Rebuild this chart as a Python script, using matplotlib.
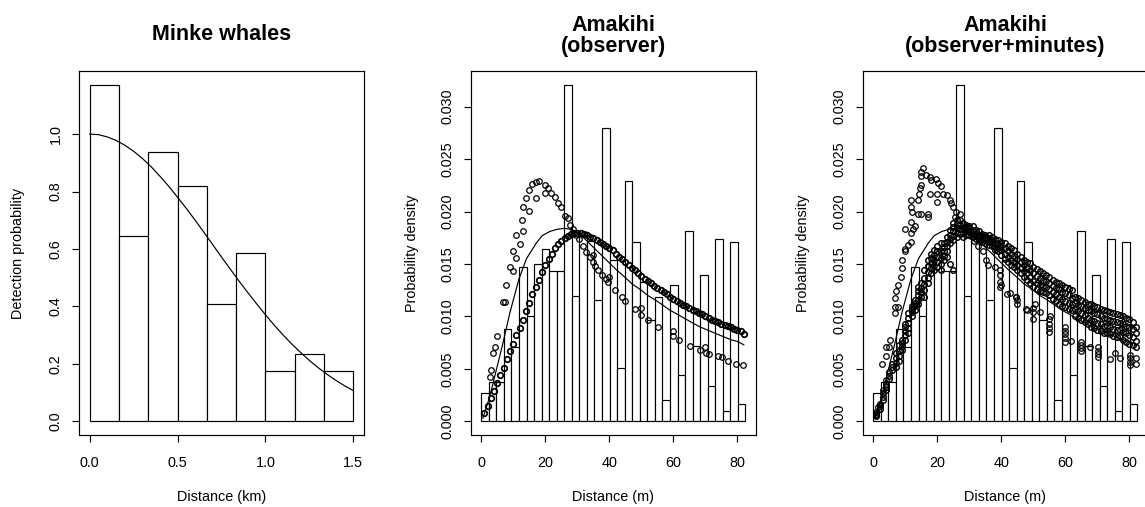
import matplotlib
matplotlib.use("Agg")
import matplotlib.pyplot as plt
import numpy as np

plt.rcParams['font.family'] = ['Liberation Sans', 'DejaVu Sans']

W, H = 1145, 507

# ---------------- data ----------------
# Panel 1: Minke whales
minke_range = (0.0, 1.5)
minke_heights = [1.172, 0.646, 0.939, 0.820, 0.410, 0.586, 0.175, 0.233, 0.175]
minke_curve_x = [0.0, 0.05, 0.1, 0.15, 0.2, 0.25, 0.3, 0.35, 0.4, 0.45, 0.5, 0.55, 0.6,
                 0.65, 0.7, 0.75, 0.8, 0.85, 0.9, 0.95, 1.0, 1.05, 1.1, 1.15, 1.2, 1.25,
                 1.3, 1.35, 1.4, 1.45, 1.5]
minke_curve_g = [1.000, 0.998, 0.990, 0.978, 0.961, 0.940, 0.915, 0.886, 0.853, 0.818,
                 0.780, 0.741, 0.700, 0.658, 0.615, 0.572, 0.530, 0.488, 0.448, 0.409,
                 0.371, 0.335, 0.301, 0.269, 0.240, 0.212, 0.187, 0.164, 0.143, 0.124, 0.107]

# Panels 2 & 3: Amakihi
amakihi_range = (0.0, 82.5)
amakihi_hist = [0.00273, 0.00373, 0.00373, 0.00883, 0.00712, 0.01468, 0.0100, 0.0150,
                0.0164, 0.0143, 0.0143, 0.0321, 0.01195, 0.0178, 0.0172, 0.0116, 0.0280,
                0.01536, 0.0051, 0.0229, 0.0171, 0.0133, 0.00966, 0.0119, 0.0020, 0.0130,
                0.0044, 0.0181, 0.0072, 0.0140, 0.0034, 0.0174, 0.0010, 0.0171, 0.0017]

avg_pdf_x = [0.5, 2.6, 4.7, 6.8, 8.9, 11.7, 14.1, 17.2, 19.0, 21.4, 23.5, 25.9, 28.2,
             30.6, 33.0, 35.3, 37.7, 40.0, 42.4, 45.0, 47.1, 50.0, 52.0, 54.2, 56.6,
             58.9, 61.3, 63.6, 65.9, 68.3, 70.7, 73.0, 75.4, 77.8, 80.1, 82.0]
avg_pdf_y = [0.0003, 0.0023, 0.0049, 0.0075, 0.0103, 0.0135, 0.0155, 0.0170, 0.0177,
             0.0181, 0.0183, 0.0184, 0.0183, 0.0179, 0.0172, 0.0165, 0.0158, 0.0151,
             0.0144, 0.0137, 0.0131, 0.0125, 0.0120, 0.0116, 0.0111, 0.0106, 0.0102,
             0.0098, 0.0094, 0.0090, 0.0087, 0.0084, 0.0081, 0.0078, 0.0076, 0.0073]

# observer model: observer level A (dense) and level B (sparse)
obsA_dist = list(range(1, 83))
obsA_dens = [0.0008, 0.0015, 0.0022, 0.0029, 0.0037, 0.0044, 0.0051, 0.0059, 0.0067, 0.0074,
             0.0082, 0.0089, 0.0097, 0.0105, 0.0113, 0.0121, 0.0128, 0.0135, 0.0142, 0.0149,
             0.0155, 0.0160, 0.0165, 0.0169, 0.0172, 0.0175, 0.0177, 0.0179, 0.0180, 0.0180,
             0.0180, 0.0179, 0.0178, 0.0176, 0.0175, 0.0173, 0.0171, 0.0169, 0.0167, 0.0165,
             0.0163, 0.0160, 0.0157, 0.0155, 0.0152, 0.0149, 0.0146, 0.0144, 0.0141, 0.0139,
             0.0136, 0.0134, 0.0132, 0.0129, 0.0127, 0.0125, 0.0123, 0.0121, 0.0119, 0.0117,
             0.0115, 0.0113, 0.0111, 0.0110, 0.0108, 0.0106, 0.0105, 0.0103, 0.0102, 0.0100,
             0.0099, 0.0097, 0.0096, 0.0095, 0.0093, 0.0092, 0.0091, 0.0090, 0.0088, 0.0087,
             0.0086, 0.0083]
obsB_dist = [2.6, 2.9, 3.8, 4.2, 4.9, 6.8, 7.3, 7.8, 9.1, 9.9, 9.9, 10.9, 10.9, 12.0, 12.8,
             13.0, 13.0, 13.9, 14.9, 14.9, 15.8, 17.0, 17.0, 18.0, 19.8, 19.8, 20.8, 21.9,
             22.9, 24.0, 24.8, 26.0, 27.1, 27.8, 28.6, 29.5, 30.5, 31.8, 32.8, 33.9, 34.9,
             34.9, 35.6, 36.5, 37.8, 39.0, 39.6, 39.9, 41.7, 43.8, 44.8, 47.9, 50.0, 50.0,
             52.1, 55.2, 59.9, 59.9, 61.8, 65.1, 68.2, 69.8, 70.3, 71.1, 74.0, 75.3, 77.1,
             79.7, 81.8]
obsB_dens = [0.0042, 0.0049, 0.0065, 0.0071, 0.0081, 0.0114, 0.0114, 0.0130, 0.0147, 0.0143,
             0.0162, 0.0156, 0.0178, 0.0169, 0.0192, 0.0181, 0.0204, 0.0213, 0.0201, 0.0221,
             0.0226, 0.0213, 0.0228, 0.0229, 0.0225, 0.0218, 0.0222, 0.0218, 0.0214, 0.0208,
             0.0204, 0.0196, 0.0194, 0.0187, 0.0183, 0.0178, 0.0174, 0.0167, 0.0161, 0.0157,
             0.0159, 0.0152, 0.0148, 0.0144, 0.0140, 0.0136, 0.0133, 0.0138, 0.0125, 0.0119,
             0.0115, 0.0107, 0.0108, 0.0101, 0.0097, 0.0090, 0.0086, 0.0081, 0.0078, 0.0072,
             0.0068, 0.0071, 0.0065, 0.0064, 0.0062, 0.0061, 0.0058, 0.0055, 0.0054]

# observer+minutes model: level A band (columns per distance), level B points
obsminA_dist = list(range(1, 83))
obsminA_dens = [
    [0.0005, 0.0007, 0.0009], [0.0012, 0.0015, 0.0017], [0.0020, 0.0023, 0.0027],
    [0.0030, 0.0033, 0.0036], [0.0040, 0.0043, 0.0047], [0.0049, 0.0052, 0.0055],
    [0.0052, 0.0056, 0.0060, 0.0065], [0.0058, 0.0062, 0.0067, 0.0073],
    [0.0068, 0.0072, 0.0075, 0.0078], [0.0078, 0.0082, 0.0086, 0.0090, 0.0093],
    [0.0084, 0.0089, 0.0094, 0.0099, 0.0103], [0.0100, 0.0104, 0.0107, 0.0110],
    [0.0106, 0.0110, 0.0113, 0.0116], [0.0112, 0.0116, 0.0120, 0.0124, 0.0128],
    [0.0119, 0.0123, 0.0127, 0.0132], [0.0119, 0.0125, 0.0131, 0.0137, 0.0144],
    [0.0132, 0.0137, 0.0142, 0.0148, 0.0154], [0.0141, 0.0146, 0.0151, 0.0156, 0.0160],
    [0.0144, 0.0149, 0.0154, 0.0159, 0.0163], [0.0147, 0.0152, 0.0157, 0.0162, 0.0167],
    [0.0144, 0.0150, 0.0156, 0.0162, 0.0170], [0.0154, 0.0158, 0.0162, 0.0166, 0.0170],
    [0.0157, 0.0162, 0.0167, 0.0171, 0.0176], [0.0150, 0.0170, 0.0174, 0.0178, 0.0182],
    [0.0144, 0.0173, 0.0177, 0.0181, 0.0185, 0.0189], [0.0176, 0.0180, 0.0184, 0.0188, 0.0192],
    [0.0179, 0.0183, 0.0187, 0.0192], [0.0176, 0.0180, 0.0184, 0.0189],
    [0.0178, 0.0181, 0.0184, 0.0187], [0.0178, 0.0181, 0.0184, 0.0186],
    [0.0176, 0.0179, 0.0182, 0.0186], [0.0174, 0.0177, 0.0180, 0.0182],
    [0.0173, 0.0176, 0.0178, 0.0181], [0.0171, 0.0174, 0.0177, 0.0179],
    [0.0170, 0.0173, 0.0176, 0.0178], [0.0168, 0.0171, 0.0175, 0.0178],
    [0.0167, 0.0170, 0.0173, 0.0176], [0.0163, 0.0166, 0.0170, 0.0174],
    [0.0162, 0.0165, 0.0169, 0.0173], [0.0159, 0.0163, 0.0167, 0.0171],
    [0.0155, 0.0160, 0.0165, 0.0170], [0.0152, 0.0157, 0.0162, 0.0167],
    [0.0149, 0.0154, 0.0160, 0.0165], [0.0147, 0.0152, 0.0158, 0.0163],
    [0.0144, 0.0149, 0.0155, 0.0160], [0.0141, 0.0146, 0.0152, 0.0157],
    [0.0138, 0.0143, 0.0149, 0.0154], [0.0135, 0.0141, 0.0146, 0.0152],
    [0.0132, 0.0138, 0.0144, 0.0151], [0.0128, 0.0134, 0.0141, 0.0147],
    [0.0126, 0.0132, 0.0139, 0.0145], [0.0124, 0.0130, 0.0137, 0.0143],
    [0.0123, 0.0129, 0.0135, 0.0141], [0.0122, 0.0128, 0.0134, 0.0140],
    [0.0120, 0.0126, 0.0132, 0.0138], [0.0117, 0.0123, 0.0129, 0.0135],
    [0.0115, 0.0121, 0.0127, 0.0133], [0.0112, 0.0119, 0.0126, 0.0132],
    [0.0110, 0.0117, 0.0123, 0.0130], [0.0109, 0.0115, 0.0122, 0.0128],
    [0.0107, 0.0113, 0.0120, 0.0126], [0.0106, 0.0112, 0.0118, 0.0125],
    [0.0100, 0.0107, 0.0113, 0.0119], [0.0099, 0.0105, 0.0111, 0.0118],
    [0.0097, 0.0103, 0.0110, 0.0116], [0.0095, 0.0101, 0.0108, 0.0114],
    [0.0093, 0.0099, 0.0106, 0.0112], [0.0090, 0.0097, 0.0105, 0.0112],
    [0.0089, 0.0096, 0.0103, 0.0110], [0.0087, 0.0094, 0.0102, 0.0109],
    [0.0086, 0.0093, 0.0100, 0.0107], [0.0084, 0.0091, 0.0099, 0.0106],
    [0.0084, 0.0091, 0.0098, 0.0105], [0.0083, 0.0090, 0.0097, 0.0104],
    [0.0081, 0.0088, 0.0096, 0.0103], [0.0080, 0.0087, 0.0095, 0.0102],
    [0.0080, 0.0087, 0.0094, 0.0101], [0.0078, 0.0085, 0.0093, 0.0100],
    [0.0076, 0.0084, 0.0091, 0.0099], [0.0074, 0.0082, 0.0090, 0.0098],
    [0.0073, 0.0080, 0.0088, 0.0095], [0.0071, 0.0077, 0.0084, 0.0090]]
obsminB_dist = [0.7, 1.4, 2.8, 3.0, 3.9, 3.9, 4.0, 4.9, 5.1, 6.9, 6.9, 6.9, 7.2, 7.7, 7.7,
                8.7, 9.0, 9.0, 9.8, 10.0, 11.0, 11.9, 10.0, 11.9, 12.4, 13.0, 11.9, 12.2,
                11.9, 11.9, 14.0, 15.0, 17.1, 17.1, 14.0, 14.4, 14.5, 15.0, 15.0, 15.5, 15.0,
                16.6, 17.6, 18.1, 19.7, 20.2, 17.8, 19.9, 19.9, 21.3, 21.8, 23.1, 23.9, 24.4,
                25.0, 25.9, 25.4, 27.0, 28.5, 29.5, 30.5, 31.5,
                32.7, 34.3, 35.3, 35.8, 37.9, 39.5, 39.5, 39.5, 39.5, 40.0, 41.8, 42.7, 44.5,
                44.7, 45.0, 45.0, 47.8, 47.9, 49.9, 49.9, 49.9, 50.4, 52.0, 55.0, 55.0, 55.0,
                55.0, 55.1, 59.9, 59.9, 59.9, 59.9, 59.9, 61.9, 65.0, 65.0, 65.0, 65.0, 67.7,
                70.3, 70.3, 70.3, 70.3, 73.9, 75.5, 77.0, 80.2, 80.2, 80.2, 80.2, 82.0, 82.0]
obsminB_dens = [0.0006, 0.0014, 0.0055, 0.0030, 0.0062, 0.0071, 0.0039, 0.0071, 0.0078,
                0.0103, 0.0109, 0.0118, 0.0124, 0.0109, 0.0130, 0.0138, 0.0154, 0.0146,
                0.0162, 0.0164, 0.0168, 0.0171, 0.0183, 0.0180, 0.0183, 0.0186, 0.0190,
                0.0200, 0.0204, 0.0211, 0.0198, 0.0198, 0.0198, 0.0195, 0.0211, 0.0217,
                0.0222, 0.0225, 0.0234, 0.0242, 0.0238, 0.0235, 0.0233, 0.0230, 0.0231,
                0.0227, 0.0217, 0.0217, 0.0209, 0.0224, 0.0217, 0.0216, 0.0211, 0.0208,
                0.0204, 0.0200, 0.0195, 0.0198, 0.0185, 0.0181, 0.0177, 0.0172,
                0.0167, 0.0162, 0.0154, 0.0149, 0.0147, 0.0144, 0.0133, 0.0140, 0.0128,
                0.0130, 0.0121, 0.0122, 0.0119, 0.0119, 0.0112, 0.0116, 0.0107, 0.0106,
                0.0098, 0.0104, 0.0108, 0.0112, 0.0104, 0.0085, 0.0089, 0.0093, 0.0098,
                0.0100, 0.0076, 0.0079, 0.0083, 0.0086, 0.0090, 0.0077, 0.0067, 0.0070,
                0.0073, 0.0076, 0.0071, 0.0061, 0.0064, 0.0067, 0.0071, 0.0059, 0.0065,
                0.0060, 0.0054, 0.0057, 0.0060, 0.0063, 0.0060, 0.0055]

# ---------------- layout helpers ----------------
FS = 10.4
LW = 0.85
MS = 4.0
MEW = 0.9


def add_axes_px(L, R, T, B):
    return fig.add_axes([L / W, 1 - B / H, (R - L) / W, (B - T) / H])


def r_lim(lo, hi):
    e = 0.04 * (hi - lo)
    return lo - e, hi + e


def style_axes(ax, xticks, xlabels, yticks, ylabels):
    for s in ax.spines.values():
        s.set_linewidth(LW)
        s.set_color('black')
    ax.set_xticks(xticks)
    ax.set_xticklabels(xlabels)
    ax.set_yticks(yticks)
    ax.set_yticklabels(ylabels, rotation=90, va='center')
    ax.tick_params(axis='both', direction='out', length=5, width=LW, labelsize=FS,
                   color='black')
    ax.tick_params(axis='x', pad=10.5)
    ax.tick_params(axis='y', pad=7)


def draw_hist(ax, heights, rng):
    n = len(heights)
    w = (rng[1] - rng[0]) / n
    lefts = rng[0] + w * np.arange(n)
    ax.bar(lefts, heights, width=w, align='edge', facecolor='white',
           edgecolor='black', linewidth=LW, zorder=1)


fig = plt.figure(figsize=(W / 100, H / 100), dpi=100)

T, B = 71.2, 434.8

# ---------------- Panel 1 ----------------
ax1 = add_axes_px(79.2, 363.8, T, B)
draw_hist(ax1, minke_heights, minke_range)
ax1.plot(minke_curve_x, minke_curve_g, color='black', lw=LW, zorder=3)
ax1.set_xlim(*r_lim(*minke_range))
ax1.set_ylim(*r_lim(0, max(minke_heights)))
style_axes(ax1, [0, 0.5, 1.0, 1.5], ['0.0', '0.5', '1.0', '1.5'],
           [0, 0.2, 0.4, 0.6, 0.8, 1.0], ['0.0', '0.2', '0.4', '0.6', '0.8', '1.0'])
fig.text((79.2 + 363.8) / 2 / W, 1 - 35 / H, 'Minke whales', ha='center', va='center',
         fontsize=15.5, fontweight='bold')
fig.text((79.2 + 363.8) / 2 / W, 1 - 497 / H, 'Distance (km)', ha='center', va='center',
         fontsize=FS)
fig.text(18 / W, 1 - 253 / H, 'Detection probability', ha='center', va='center',
         rotation=90, fontsize=FS)

ytk = [0, 0.005, 0.010, 0.015, 0.020, 0.025, 0.030]
ytl = ['0.000', '0.005', '0.010', '0.015', '0.020', '0.025', '0.030']
xtk = [0, 20, 40, 60, 80]
xtl = ['0', '20', '40', '60', '80']

# ---------------- Panel 2 ----------------
L2, R2 = 470.7, 756.0
ax2 = add_axes_px(L2, R2, T, B)
draw_hist(ax2, amakihi_hist, amakihi_range)
ax2.plot(avg_pdf_x, avg_pdf_y, color='black', lw=LW, zorder=3)
ax2.plot(obsA_dist, obsA_dens, 'o', mfc='none', mec='black', ms=MS, mew=1.25, zorder=4)
ax2.plot(obsB_dist, obsB_dens, 'o', mfc='none', mec='black', ms=MS, mew=MEW, zorder=4)
ax2.set_xlim(*r_lim(*amakihi_range))
ax2.set_ylim(*r_lim(0, max(amakihi_hist)))
style_axes(ax2, xtk, xtl, ytk, ytl)
fig.text((L2 + R2) / 2 / W, 1 - 36 / H, 'Amakihi\n(observer)', ha='center', va='center',
         fontsize=15.5, fontweight='bold', linespacing=0.95)
fig.text((L2 + R2) / 2 / W, 1 - 497 / H, 'Distance (m)', ha='center', va='center',
         fontsize=FS)
fig.text(412 / W, 1 - 253 / H, 'Probability density', ha='center', va='center',
         rotation=90, fontsize=FS)

# ---------------- Panel 3 ----------------
L3, R3 = 862.7, 1148.0
ax3 = add_axes_px(L3, R3, T, B)
draw_hist(ax3, amakihi_hist, amakihi_range)
ax3.plot(avg_pdf_x, avg_pdf_y, color='black', lw=LW, zorder=3)
for d, col in zip(obsminA_dist, obsminA_dens):
    ax3.plot([d] * len(col), col, 'o', mfc='none', mec='black', ms=MS, mew=1.05, zorder=4)
ax3.plot(obsminB_dist, obsminB_dens, 'o', mfc='none', mec='black', ms=MS, mew=MEW,
         zorder=4)
ax3.set_xlim(*r_lim(*amakihi_range))
ax3.set_ylim(*r_lim(0, max(amakihi_hist)))
style_axes(ax3, xtk, xtl, ytk, ytl)
fig.text((L3 + R3) / 2 / W, 1 - 36 / H, 'Amakihi\n(observer+minutes)', ha='center',
         va='center', fontsize=15.5, fontweight='bold', linespacing=0.95)
fig.text((L3 + R3) / 2 / W, 1 - 497 / H, 'Distance (m)', ha='center', va='center',
         fontsize=FS)
fig.text(803 / W, 1 - 253 / H, 'Probability density', ha='center', va='center',
         rotation=90, fontsize=FS)

fig.savefig('out.png', dpi=100)
